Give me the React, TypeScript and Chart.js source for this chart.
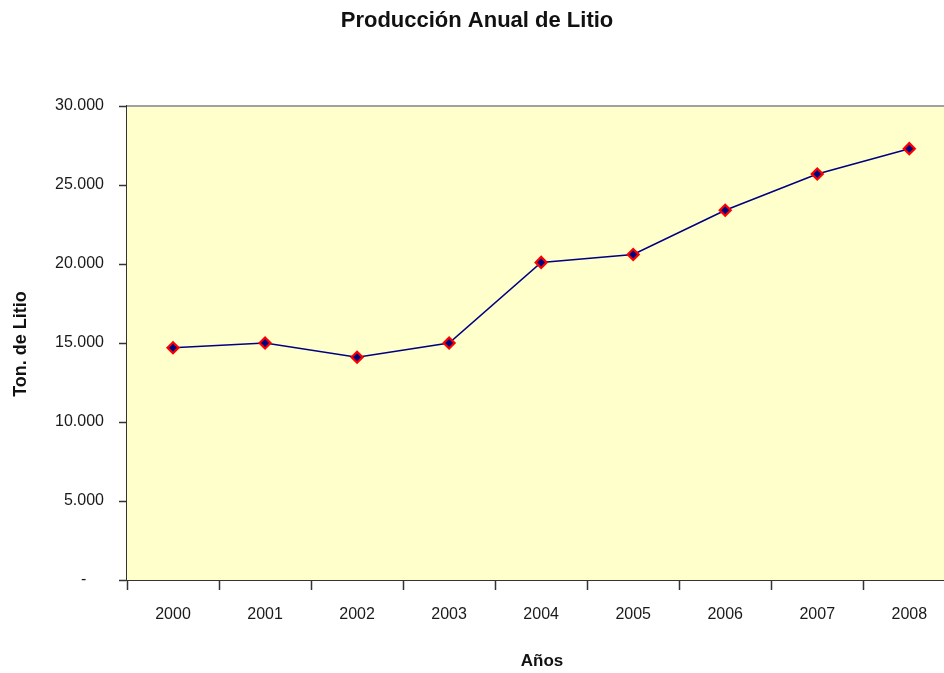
import React, { useEffect, useRef } from "react";
import { Chart, registerables } from "chart.js";

Chart.register(...registerables);

const years = ["2000", "2001", "2002", "2003", "2004", "2005", "2006", "2007", "2008"];
const production = [14700, 15000, 14100, 15000, 20100, 20600, 23400, 25700, 27300];
const yMin = 0;
const yMax = 30000;
const yStep = 5000;
const chartTitle = "Producción Anual de Litio";
const xAxisTitle = "Años";
const yAxisTitle = "Ton. de Litio";

const FONT = "'Liberation Sans', Arial, sans-serif";

function formatTick(v: number): string {
  if (v === 0) return "-    ";
  return Math.round(v)
    .toString()
    .replace(/\B(?=(\d{3})+(?!\d))/g, ".");
}

const decorPlugin = {
  id: "decor",
  beforeDatasetsDraw(chart: any) {
    const { ctx, chartArea } = chart;
    ctx.save();
    ctx.fillStyle = "#FFFFCC";
    ctx.fillRect(chartArea.left, chartArea.top, chartArea.right - chartArea.left, chartArea.bottom - chartArea.top);
    ctx.strokeStyle = "#A0A0A0";
    ctx.lineWidth = 2;
    ctx.beginPath();
    ctx.moveTo(chartArea.left, chartArea.top);
    ctx.lineTo(chartArea.right, chartArea.top);
    ctx.stroke();
    ctx.restore();
  },
  afterDraw(chart: any) {
    const { ctx } = chart;
    ctx.save();
    ctx.fillStyle = "#111111";
    ctx.textAlign = "center";
    ctx.textBaseline = "middle";
    ctx.font = `bold 22px ${FONT}`;
    ctx.fillText(chartTitle, 477, 21);
    ctx.font = `bold 17px ${FONT}`;
    ctx.fillText(xAxisTitle, 542, 661);
    ctx.translate(21, 344);
    ctx.rotate(-Math.PI / 2);
    ctx.font = `bold 18px ${FONT}`;
    ctx.fillText(yAxisTitle, 0, 0);
    ctx.restore();
  },
};

export default function App() {
  const canvasRef = useRef<HTMLCanvasElement | null>(null);

  useEffect(() => {
    const canvas = canvasRef.current;
    if (!canvas) return;
    const chart = new Chart(canvas, {
      type: "line",
      data: {
        labels: years,
        datasets: [
          {
            label: yAxisTitle,
            data: production,
            borderColor: "#000080",
            borderWidth: 1.6,
            backgroundColor: "#000080",
            pointStyle: "rectRot",
            pointRadius: 5.5,
            pointBackgroundColor: "#000080",
            pointBorderColor: "#FF0000",
            pointBorderWidth: 2.2,
            tension: 0,
            fill: false,
          },
        ],
      },
      options: {
        animation: false,
        responsive: false,
        devicePixelRatio: 1,
        layout: { padding: { top: 106, right: 4, left: 0, bottom: 0 } },
        plugins: {
          legend: { display: false },
          tooltip: { enabled: false },
          title: { display: false },
        },
        scales: {
          x: {
            type: "category",
            offset: true,
            grid: {
              offset: true,
              drawOnChartArea: false,
              drawTicks: true,
              tickLength: 10,
              tickColor: "#333333",
              tickWidth: 1.5,
            },
            border: { color: "#333333", width: 2 },
            ticks: {
              color: "#1a1a1a",
              font: { family: FONT, size: 16 },
              padding: 15,
              maxRotation: 0,
              autoSkip: false,
            },
            afterFit(scale: any) {
              scale.height = 93;
            },
          },
          y: {
            min: yMin,
            max: yMax,
            grid: {
              drawOnChartArea: false,
              drawTicks: true,
              tickLength: 8,
              tickColor: "#333333",
              tickWidth: 1.5,
            },
            border: { color: "#333333", width: 2 },
            ticks: {
              stepSize: yStep,
              color: "#1a1a1a",
              font: { family: FONT, size: 16 },
              padding: 15,
              callback: (v: any) => formatTick(Number(v)),
            },
            afterFit(scale: any) {
              scale.width = 127;
            },
          },
        },
      },
      plugins: [decorPlugin],
    });
    return () => chart.destroy();
  }, []);

  return (
    <div
      style={{
        position: "fixed",
        left: 0,
        top: 0,
        width: 944,
        height: 673,
        overflow: "hidden",
        background: "#ffffff",
      }}
    >
      <canvas ref={canvasRef} width={963} height={673} style={{ width: 963, height: 673, display: "block" }} />
    </div>
  );
}
